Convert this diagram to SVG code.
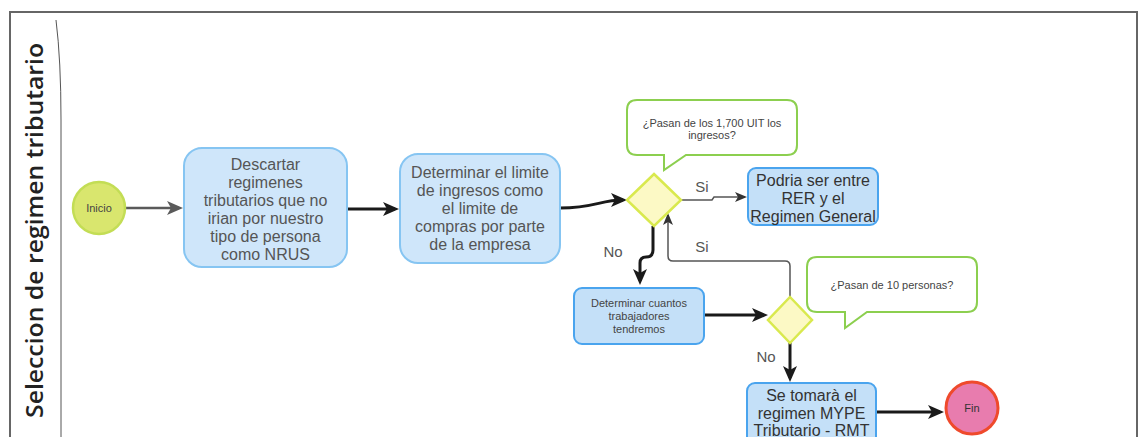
<svg xmlns="http://www.w3.org/2000/svg" width="1138" height="437" viewBox="0 0 1138 437">
<style>
.box1{fill:#cfe6fa;stroke:#86c5f2;stroke-width:2}
.box2{fill:#c4e0f8;stroke:#4aa4ee;stroke-width:2}
.dia{fill:#fcf9c5;stroke:#d9e94e;stroke-width:2.5}
.call{fill:#ffffff;stroke:#8ccf4f;stroke-width:2}
.t16{font-family:"Liberation Sans",Arial,sans-serif;font-size:16px;fill:#555;text-anchor:middle}
.t11{font-family:"Liberation Sans",Arial,sans-serif;font-size:11px;fill:#444;text-anchor:middle}
.lbl{font-family:"Liberation Sans",Arial,sans-serif;font-size:15px;fill:#555;text-anchor:middle}
.bk{fill:none;stroke:#1a1a1a;stroke-width:3}
.gr{fill:none;stroke:#555;stroke-width:1.5}
</style>
<defs>
<marker id="ab" viewBox="0 0 16 14" refX="12" refY="7" markerWidth="16" markerHeight="14" markerUnits="userSpaceOnUse" orient="auto"><path d="M0,0 L16,7 L0,14 L4,7 Z" fill="#1a1a1a"/></marker>
<marker id="ag" viewBox="0 0 16 14" refX="12" refY="7" markerWidth="16" markerHeight="14" markerUnits="userSpaceOnUse" orient="auto"><path d="M0,0 L16,7 L0,14 L4,7 Z" fill="#5a5a5a"/></marker>
<marker id="as" viewBox="0 0 12 10" refX="10" refY="5" markerWidth="12" markerHeight="10" markerUnits="userSpaceOnUse" orient="auto"><path d="M0,0 L12,5 L0,10 L3,5 Z" fill="#333"/></marker>
</defs>
<rect width="1138" height="437" fill="#ffffff"/>
<g id="lane">
<path d="M10,437 V12 H1137 V437" fill="none" stroke="#666" stroke-width="2"/>
<path d="M56,20 Q61,60 61,120 V437" fill="none" stroke="#555" stroke-width="1"/>
<text transform="translate(43,230.5) rotate(-90)" text-anchor="middle" font-family="Open Sans, sans-serif" font-size="24" font-weight="600" fill="#222" textLength="375" lengthAdjust="spacingAndGlyphs">Seleccion de regimen tributario</text>
</g>
<g id="connectors">
<path d="M126,208 H179" fill="none" stroke="#5a5a5a" stroke-width="2.5" marker-end="url(#ag)"/>
<path d="M347,209 H395" class="bk" marker-end="url(#ab)"/>
<path d="M560,208 C595,208 600,200 623,200" class="bk" marker-end="url(#ab)"/>
<path d="M681,200 H712 L714,197 H745" class="gr" marker-end="url(#as)"/>
<path d="M653,226 V250 Q653,257 646,257 Q640,257 640,263 V281" class="bk" marker-end="url(#ab)"/>
<path d="M790,297 V266 Q790,261 785,261 H673 Q668,261 668,256 V215" class="gr" marker-end="url(#as)"/>
<path d="M704,315 H764" class="bk" marker-end="url(#ab)"/>
<path d="M790,343 V378" class="bk" marker-end="url(#ab)"/>
<path d="M876,412 H940" class="bk" marker-end="url(#ab)"/>
<text x="702" y="192" class="lbl">Si</text>
<text x="702" y="252" class="lbl">Si</text>
<text x="613" y="257" class="lbl">No</text>
<text x="766" y="362" class="lbl">No</text>
</g>
<g id="inicio">
<circle cx="99" cy="208" r="26" fill="#d9e66e" stroke="#c3dd55" stroke-width="2.5"/>
<text x="99" y="212" class="t11">Inicio</text>
</g>
<g id="descartar">
<rect x="184" y="148" width="163" height="119" rx="18" class="box1"/>
<text class="t16"><tspan x="265.5" y="170">Descartar</tspan><tspan x="265.5" y="188">regimenes</tspan><tspan x="265.5" y="206">tributarios que no</tspan><tspan x="265.5" y="224">irian por nuestro</tspan><tspan x="265.5" y="242">tipo de persona</tspan><tspan x="265.5" y="260">como NRUS</tspan></text>
</g>
<g id="determinar">
<rect x="400" y="154" width="160" height="109" rx="18" class="box1"/>
<text class="t16"><tspan x="480" y="178">Determinar el limite</tspan><tspan x="480" y="196">de ingresos como</tspan><tspan x="480" y="214">el limite de</tspan><tspan x="480" y="232">compras por parte</tspan><tspan x="480" y="250">de la empresa</tspan></text>
</g>
<g id="decision1">
<polygon points="654,174 681,200 654,226 627,200" class="dia"/>
</g>
<g id="callout1">
<path d="M637,100 H787 Q797,100 797,110 V145 Q797,155 787,155 H686 L664,170 V155 H637 Q627,155 627,145 V110 Q627,100 637,100 Z" class="call"/>
<text class="t11"><tspan x="712" y="127">¿Pasan de los 1,700 UIT los</tspan><tspan x="712" y="139">ingresos?</tspan></text>
</g>
<g id="podria">
<rect x="748" y="168" width="130" height="57" rx="8" class="box2"/>
<text class="t16" style="fill:#333"><tspan x="813" y="186">Podria ser entre</tspan><tspan x="813" y="204">RER y el</tspan><tspan x="813" y="222">Regimen General</tspan></text>
</g>
<g id="cuantos">
<rect x="574" y="288" width="130" height="56" rx="8" class="box2"/>
<text class="t11"><tspan x="639" y="307">Determinar cuantos</tspan><tspan x="639" y="320">trabajadores</tspan><tspan x="639" y="333">tendremos</tspan></text>
</g>
<g id="decision2">
<polygon points="790,297 812,320 790,343 768,320" class="dia"/>
</g>
<g id="callout2">
<path d="M817,257 H967 Q977,257 977,267 V302 Q977,312 967,312 H867 L845,328 V312 H817 Q807,312 807,302 V267 Q807,257 817,257 Z" class="call"/>
<text x="892" y="289" class="t11">¿Pasan de 10 personas?</text>
</g>
<g id="mype">
<rect x="747" y="383" width="129" height="66" rx="8" class="box2"/>
<text class="t16" style="fill:#333"><tspan x="811.5" y="401">Se tomarà el</tspan><tspan x="811.5" y="419">regimen MYPE</tspan><tspan x="811.5" y="436">Tributario - RMT</tspan></text>
</g>
<g id="fin">
<circle cx="972" cy="408" r="26" fill="#e87cae" stroke="#ef4a2c" stroke-width="3"/>
<text x="972" y="412" class="t11" style="fill:#333">Fin</text>
</g>
</svg>
